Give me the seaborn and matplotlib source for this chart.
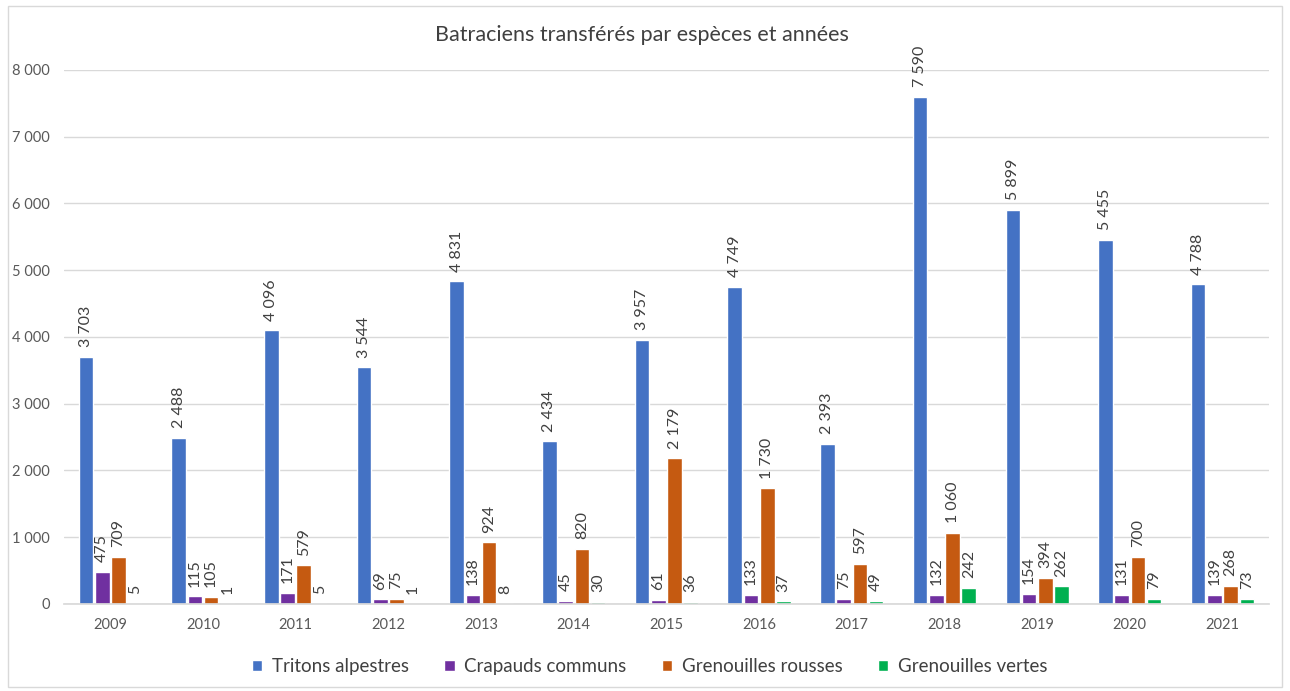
import matplotlib
matplotlib.use("Agg")
import matplotlib.pyplot as plt
import seaborn as sns
import pandas as pd
from matplotlib.patches import Rectangle

years = ["2009", "2010", "2011", "2012", "2013", "2014", "2015", "2016", "2017", "2018", "2019", "2020", "2021"]
species = ["Tritons alpestres", "Crapauds communs", "Grenouilles rousses", "Grenouilles vertes"]
tritons = [3703, 2488, 4096, 3544, 4831, 2434, 3957, 4749, 2393, 7590, 5899, 5455, 4788]
crapauds = [475, 115, 171, 69, 138, 45, 61, 133, 75, 132, 154, 131, 139]
rousses = [709, 105, 579, 75, 924, 820, 2179, 1730, 597, 1060, 394, 700, 268]
vertes = [5, 1, 5, 1, 8, 30, 36, 37, 49, 242, 262, 79, 73]
colors = ["#4472C4", "#7030A0", "#C55A11", "#00B050"]

rows = []
for sp, vals in zip(species, [tritons, crapauds, rousses, vertes]):
    for y, v in zip(years, vals):
        rows.append({"Année": y, "Espèce": sp, "Valeur": v})
df = pd.DataFrame(rows)

sns.set_theme(style="white")
plt.rcParams["font.family"] = ["Lato", "DejaVu Sans"]

fig = plt.figure(figsize=(12.9, 6.91), dpi=100)
ax = fig.add_axes([0.0496, 0.126, 0.934, 0.773])

sns.barplot(data=df, x="Année", y="Valeur", hue="Espèce", order=years, hue_order=species,
            palette=colors, width=0.7, gap=0.1, ax=ax, legend=True, saturation=1, errorbar=None)

def fmt(v):
    return f"{int(v):,}".replace(",", " ")

for cont in ax.containers:
    for bar in cont:
        h = bar.get_height()
        ax.annotate(fmt(h), (bar.get_x() + bar.get_width() / 2, h), xytext=(0, 7),
                    textcoords="offset points", rotation=90, ha="center", va="bottom",
                    fontsize=11.5, color="#404040", annotation_clip=False)

ax.set_ylim(0, 8000)
ax.set_xlim(-0.5, len(years) - 0.5)
ax.set_yticks(range(0, 8001, 1000))
ax.set_yticklabels([fmt(v) for v in range(0, 8001, 1000)])
ax.yaxis.grid(True, color="#D9D9D9", linewidth=1)
ax.set_axisbelow(True)
for s in ["top", "right", "left"]:
    ax.spines[s].set_visible(False)
ax.spines["bottom"].set_color("#D9D9D9")
ax.tick_params(axis="both", length=0, labelsize=10.5, colors="#595959", pad=10)
ax.set_xlabel("")
ax.set_ylabel("")

leg = ax.legend(loc="upper center", bbox_to_anchor=(0.486, -0.07), ncol=4, frameon=False,
                fontsize=13.5, handlelength=0.55, handleheight=0.55, handletextpad=0.5,
                columnspacing=1.9)
for t in leg.get_texts():
    t.set_color("#404040")

fig.text(0.498, 0.95, "Batraciens transférés par espèces et années", ha="center", va="center",
         fontsize=15.5, color="#404040")

fig.patches.append(Rectangle((0.006, 0.006), 0.988, 0.986, transform=fig.transFigure,
                             fill=False, edgecolor="#D9D9D9", linewidth=1))

fig.savefig("out.png", dpi=100)
